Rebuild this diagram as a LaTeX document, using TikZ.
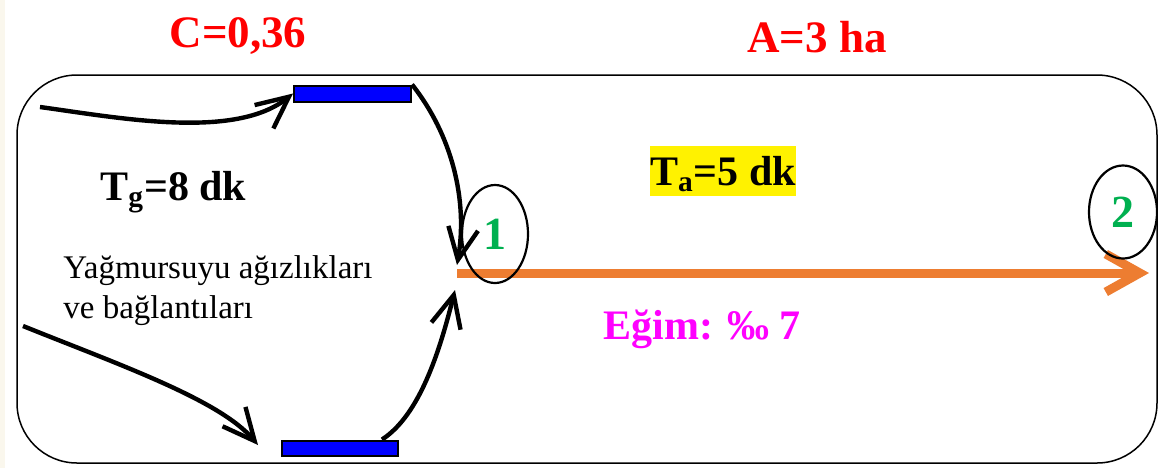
\documentclass[tikz,border=0pt]{standalone}
\usepackage{fontspec}
\setmainfont{Liberation Serif}
\newfontfamily\timesfont{Liberation Serif}
\usepackage{xcolor}
\usepackage{tikz}
\usetikzlibrary{shapes, arrows.meta, positioning, calc, shapes.geometric}

\definecolor{cream}{RGB}{250,247,237}
\definecolor{pointgreen}{RGB}{0,176,80}
\definecolor{channel}{RGB}{237,125,49}
\definecolor{slopepink}{RGB}{255,0,255}
\definecolor{valred}{RGB}{255,0,0}

\begin{document}
\begin{tikzpicture}[
    x=0.5pt, y=-0.5pt,
    label/.style={inner sep=0pt, anchor=base, font=\timesfont\fontsize{22.5}{27}\selectfont\bfseries},
    grate/.style={rectangle, draw, line width=1pt, fill=blue, inner sep=0pt},
    point/.style={ellipse, draw, line width=1.1pt, inner sep=0pt, text=pointgreen, font=\timesfont\fontsize{23}{27}\selectfont\bfseries},
    flow/.style={-{Straight Barb[length=16pt, width=15pt, line width=2.2pt, sharp]}, line width=2.2pt},
    channelflow/.style={-{Straight Barb[length=17pt, width=19pt, line width=4.5pt, sharp]}, draw=channel, line width=4.5pt}
]
\useasboundingbox (0,0) rectangle (1158,468);
\fill[cream] (0,0) rectangle (5,468);

% Catchment
\draw[line width=0.75pt, rounded corners=30pt] (17,75) rectangle (1157,463);

% Channel
\coordinate (outlet) at (457,273);
\coordinate (mouth) at (1149,273);
\draw[channelflow] (outlet) -- (mouth);

% Design points
\node[point, minimum width=33pt, minimum height=49pt] (n1) at (495,234) {1};
\node[point, minimum width=34pt, minimum height=46.5pt] (n2) at (1123,212) {2};

% Inlets
\node[grate, minimum width=58.5pt, minimum height=8pt] (ub) at (352.5,93.5) {};
\node[grate, minimum width=58pt, minimum height=7.5pt] (lb) at (340,448) {};

% Surface flow
\coordinate (s1) at (40,107);
\coordinate (s3) at (23,326);
\coordinate (in1) at (457,265);
\coordinate (in2) at (455,290);
\draw[flow] (s1) .. controls (120,118) and (235,140) .. (ub.west);
\draw[flow] (ub.north east) .. controls (452,135) and (468,200) .. (in1);
\draw[flow] (s3) .. controls (120,365) and (220,400) .. ([xshift=-11.5pt, yshift=1.5pt]lb.west);
\draw[flow] ([xshift=-8.5pt]lb.north east) .. controls (420,415) and (440,350) .. (in2);

% Labels
\node[label, text=valred] (cval) at (238,47) {C=0,36};
\node[label, text=valred] (area) at (817,52) {A=3 ha};
\node[label, anchor=base west, font=\timesfont\fontsize{21}{25}\selectfont\bfseries] (tg) at (100,200) {T\textsubscript{g}=8 dk};
\node[label, anchor=center, fill=yellow, text height=19.5pt, text depth=5.5pt, font=\timesfont\fontsize{21}{25}\selectfont\bfseries] (ta) at (723,171) {T\textsubscript{a}=5 dk};
\node[anchor=north west, inner sep=0pt, align=left, font=\timesfont\fontsize{16.5}{20}\selectfont] (inlets) at (63,255) {Yağmursuyu ağızlıkları\\ve bağlantıları};
\node[label, anchor=base west, text=slopepink, font=\timesfont\fontsize{21}{25}\selectfont\bfseries] (slope) at (603,339) {Eğim: ‰ 7};

\end{tikzpicture}
\end{document}
